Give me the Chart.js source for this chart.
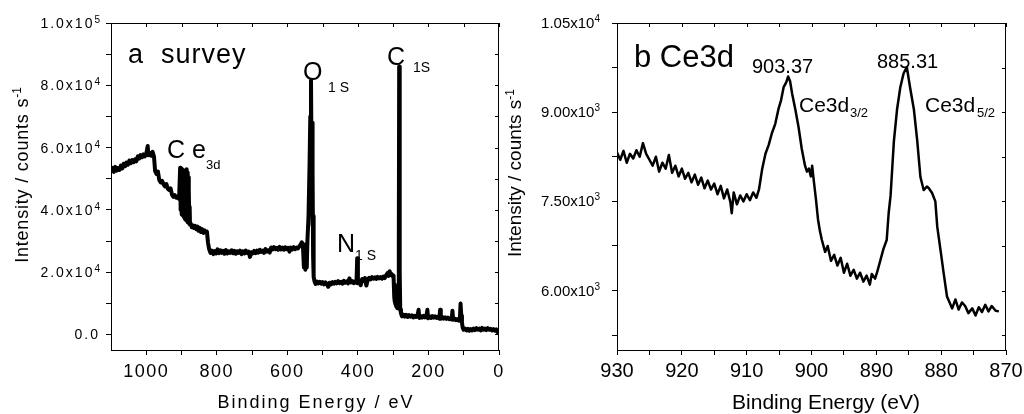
<!DOCTYPE html>
<html>
<head>
<meta charset="utf-8">
<script src="https://cdn.jsdelivr.net/npm/chart.js@4.4.1/dist/chart.umd.min.js"></script>
<style>
  html, body { margin: 0; padding: 0; background: #fff; }
  #wrap { position: relative; width: 1024px; height: 414px; overflow: hidden; }
  canvas { position: absolute; left: 0; top: 0; }
</style>
</head>
<body>
<div id="wrap">
  <canvas id="surveyChart" width="1024" height="414"></canvas>
  <canvas id="ce3dChart" width="1024" height="414"></canvas>
</div>
<script>
// ---- panel a: survey spectrum ----
const surveyEnergy = [
  1100, 1096, 1092, 1088, 1084, 1080, 1076, 1072, 1068, 1064,
  1060, 1056, 1052, 1048, 1044, 1040, 1036, 1032, 1028, 1024,
  1020, 1016, 1012, 1008, 1004, 1000, 996, 994, 990, 986,
  982, 978, 975, 971, 967, 963, 959, 955, 951, 947,
  943, 939, 935, 931, 927, 923, 919, 915, 911, 907,
  904, 903, 902, 901, 900, 899, 898, 897, 896, 895,
  894, 893, 892, 891, 890, 889, 888, 887, 886, 885,
  884, 883, 882, 881, 880, 879, 878, 877, 876, 874,
  871, 868, 865, 862, 858, 855, 852, 848, 845, 842,
  838, 835, 831, 828, 825, 822, 818, 814, 810, 806,
  802, 798, 794, 790, 786, 782, 778, 774, 770, 766,
  762, 758, 754, 750, 746, 742, 738, 734, 730, 726,
  722, 718, 714, 710, 706, 702, 698, 694, 690, 686,
  682, 678, 674, 670, 666, 662, 658, 654, 650, 646,
  642, 638, 634, 630, 626, 622, 618, 614, 610, 606,
  602, 598, 594, 590, 586, 582, 578, 574, 570, 566,
  562, 559, 556, 553, 551, 549, 547, 545, 543, 540,
  537, 535, 533, 532, 531, 530, 529, 528, 527, 526,
  525, 523, 520, 516, 512, 508, 504, 500, 496, 492,
  488, 484, 480, 476, 472, 468, 464, 460, 456, 452,
  448, 444, 440, 436, 432, 428, 424, 420, 416, 412,
  408, 404, 402, 400, 396, 392, 388, 384, 380, 376,
  372, 368, 364, 360, 356, 352, 348, 344, 340, 336,
  332, 328, 324, 320, 316, 313, 310, 307, 304, 301,
  299, 297, 296, 295, 294, 293, 292, 291, 290, 289,
  288, 286, 284, 283, 282, 281, 280, 278, 275, 271,
  267, 263, 259, 255, 251, 247, 243, 239, 235, 231,
  228, 226, 222, 218, 214, 210, 206, 203, 201, 197,
  193, 189, 185, 181, 177, 173, 169, 167, 165, 161,
  157, 153, 149, 145, 141, 137, 134, 132, 130, 126,
  122, 118, 114, 111, 109, 107, 105, 103, 100, 96,
  92, 88, 84, 80, 76, 72, 68, 64, 60, 56,
  52, 48, 44, 40, 36, 32, 28, 24, 20, 16,
  12, 8, 5, 2, 0
];
const surveyCounts = [
  52000, 53500, 52200, 53800, 52600, 53400, 52800, 54200, 53300, 54800,
  54000, 55200, 54500, 55800, 55000, 56000, 55300, 56200, 55600, 57200,
  56500, 57600, 56900, 57800, 57200, 58000, 60500, 57500, 58300, 57400,
  58600, 57000, 52500, 51500, 52300, 49500, 48800, 49300, 48200, 47500,
  48300, 46800, 46400, 46900, 44800, 44200, 44700, 43900, 44300, 43500,
  53500, 52800, 40000, 53200, 38500, 52600, 39200, 52300, 38200, 52700,
  37800, 52100, 37400, 52400, 37000, 51900, 36800, 52200, 36600, 53000,
  36300, 52000, 36000, 50500, 35800, 46500, 35500, 41000, 35200, 35600,
  34400, 35000, 34200, 34900, 33800, 34600, 33300, 34200, 32900, 33800,
  32600, 33400, 32800, 33000, 29500, 27500, 26200, 26900, 25800, 26800,
  26000, 27300, 26100, 27000, 26200, 26800, 25900, 27100, 26000, 26700,
  26200, 27000, 26100, 26800, 25900, 26700, 26200, 26900, 25800, 26700,
  26000, 26900, 26200, 26600, 24900, 26400, 26000, 26800, 26100, 26900,
  26300, 27200, 26500, 26900, 26200, 27400, 26600, 27000, 26300, 27900,
  27300, 28000, 27400, 27800, 27200, 28100, 27300, 27900, 27200, 28000,
  27400, 27800, 26600, 27900, 27300, 28000, 27400, 27900, 27600, 28300,
  28900, 29600, 28700, 21500, 28200, 20800, 29000, 21500, 30500, 38000,
  55000, 70000, 81500, 65000, 45000, 68000, 35000, 52000, 25000, 38000,
  18500, 17000, 16200, 17000, 16400, 16900, 16300, 16800, 16100, 16700,
  16200, 15300, 16600, 16100, 16800, 16300, 16900, 16400, 17100, 16500,
  16900, 16300, 17200, 16600, 17000, 16400, 18000, 16700, 17100, 16500,
  17000, 16600, 24500, 16400, 16900, 15800, 17800, 17200, 18100, 15700,
  17600, 18200, 17700, 18400, 17900, 18300, 17800, 18500, 18000, 18400,
  17900, 18600, 18100, 19000, 19700, 18800, 20300, 19100, 19400, 18600,
  18900, 12000, 10500, 16000, 9800, 14000, 9200, 12500, 8800, 11500,
  8400, 9000, 30000, 86000, 50000, 20000, 8000, 6800, 5800, 6400,
  5700, 6300, 5600, 6200, 5700, 6100, 5500, 6000, 5600, 6100,
  7900, 5300, 5900, 5400, 6000, 5500, 5900, 7900, 5200, 5800,
  5300, 5900, 5400, 5800, 5300, 5700, 5100, 7900, 5000, 5600,
  5100, 5500, 5000, 5400, 4900, 5300, 4800, 7600, 4700, 5100,
  4600, 4900, 4400, 4800, 9900, 6000, 3800, 2200, 1500, 1900,
  1300, 1800, 1200, 1700, 1300, 1900, 1400, 2000, 1500, 1900,
  1300, 2100, 1500, 1900, 1400, 2000, 1500, 1800, 1300, 1700,
  1200, 1600, 1000, 400, 100
];
const surveyXTicks = [1000, 900, 800, 700, 600, 500, 400, 300, 200, 100, 0];
const surveyXMajor = [1000, 800, 600, 400, 200, 0];
const surveyXLabels = ['1000', '800', '600', '400', '200', '0'];
const surveyYTicks = [0, 10000, 20000, 30000, 40000, 50000, 60000, 70000, 80000, 90000, 100000];
const surveyYMajor = [0, 20000, 40000, 60000, 80000, 100000];
const surveyYLabels = ['0.0', '2.0x10^4', '4.0x10^4', '6.0x10^4', '8.0x10^4', '1.0x10^5'];

// ---- panel b: Ce 3d region ----
const ce3dEnergy = [
  930.0, 929.5, 929.0, 928.5, 928.0, 927.5, 927.0, 926.5, 926.0, 925.5,
  925.0, 924.5, 924.0, 923.5, 923.0, 922.5, 922.0, 921.5, 921.0, 920.5,
  920.0, 919.5, 919.0, 918.5, 918.0, 917.5, 917.0, 916.5, 916.0, 915.5,
  915.0, 914.5, 914.0, 913.5, 913.0, 912.5, 912.3, 912.0, 911.5, 911.0,
  910.5, 910.0, 909.5, 909.0, 908.5, 908.1, 907.6, 907.1, 906.6, 906.1,
  905.6, 905.1, 904.7, 904.3, 903.9, 903.6, 903.3, 903.0, 902.5, 902.0,
  901.5, 901.0, 900.7, 900.4, 900.1, 899.9, 899.7, 899.3, 899.0, 898.7,
  898.4, 897.9, 897.5, 897.0, 896.5, 896.0, 895.5, 895.0, 894.5, 894.0,
  893.5, 893.0, 892.5, 892.0, 891.5, 891.0, 890.7, 890.2, 889.9, 889.4,
  888.9, 888.4, 888.1, 887.8, 887.3, 886.8, 886.3, 885.8, 885.3, 884.8,
  884.2, 883.7, 883.2, 882.7, 882.2, 881.9, 881.4, 880.9, 880.6, 880.1,
  879.6, 879.1, 878.7, 878.3, 877.8, 877.3, 876.8, 876.3, 875.8, 875.2,
  874.7, 874.2, 873.7, 873.2, 872.7, 872.2, 871.6, 871.1
];
const ce3dCounts = [
  8320, 8200, 8350, 8150, 8300, 8220, 8360, 8250, 8480, 8300,
  8200, 8100, 8250, 8000, 8150, 8050, 8280, 7980, 8100, 7920,
  8050, 7880, 7980, 7820, 7950, 7780, 7900, 7720, 7850, 7700,
  7800, 7620, 7760, 7550, 7700, 7480, 7300, 7650, 7450, 7600,
  7500, 7620, 7520, 7650, 7560, 7700, 8050, 8300, 8450, 8650,
  8800, 9050, 9200, 9420, 9500, 9600, 9520, 9320, 9050, 8750,
  8380, 8100, 8000, 8050, 7920, 8100, 7900, 7520, 7200, 7000,
  6850, 6650, 6750, 6500, 6600, 6420, 6550, 6300, 6450, 6250,
  6350, 6200, 6300, 6150, 6250, 6100, 6280, 6200, 6300, 6500,
  6700, 6850, 7300, 7600, 8500, 9050, 9420, 9650, 9760, 9420,
  9040, 8530, 7910, 7690, 7750, 7720, 7640, 7500, 7070, 6680,
  6280, 5900, 5800, 5700, 5850, 5680, 5800, 5740, 5620, 5700,
  5580, 5720, 5640, 5760, 5650, 5740, 5660, 5650
];
const ce3dXTicks = [930, 925, 920, 915, 910, 905, 900, 895, 890, 885, 880, 875, 870];
const ce3dXMajor = [930, 920, 910, 900, 890, 880, 870];
const ce3dXLabels = ['930', '920', '910', '900', '890', '880', '870'];
const ce3dYTicks = [5250, 6000, 6750, 7500, 8250, 9000, 9750, 10500];
const ce3dYMajor = [6000, 7500, 9000, 10500];
const ce3dYLabels = ['6.00x10^3', '7.50x10^3', '9.00x10^3', '1.05x10^4'];

const FONT = '"Liberation Sans", Arial, sans-serif';

// draw a run of text pieces (for super/subscripts), each with its own size
function drawRich(ctx, segs, x, y, align) {
  const widths = segs.map(s => {
    ctx.font = s.s + 'px ' + FONT;
    ctx.letterSpacing = (s.ls || 0) + 'px';
    return ctx.measureText(s.t).width;
  });
  const total = widths.reduce((a, b) => a + b, 0);
  let cx = align === 'right' ? x - total : align === 'center' ? x - total / 2 : x;
  segs.forEach((s, i) => {
    ctx.font = s.s + 'px ' + FONT;
    ctx.letterSpacing = (s.ls || 0) + 'px';
    ctx.fillText(s.t, cx, y + (s.dy || 0));
    cx += widths[i];
  });
  ctx.letterSpacing = '0px';
}

function supSegs(label, size, ls, supSize, raise) {
  const [base, sup] = label.split('^');
  const segs = [{ t: base, s: size, ls: ls }];
  if (sup) segs.push({ t: sup, s: supSize, dy: -raise });
  return segs;
}

const panelPlugin = spec => ({
  id: 'panel_' + spec.name,
  afterDraw(chart) {
    const ctx = chart.ctx, a = chart.chartArea;
    const xs = chart.scales.x, ys = chart.scales.y;
    ctx.save();
    // top and right frame with inward mirror ticks
    ctx.strokeStyle = '#000';
    ctx.lineWidth = 1;
    ctx.beginPath();
    ctx.moveTo(a.left, Math.round(a.top) + 0.5);
    ctx.lineTo(a.right, Math.round(a.top) + 0.5);
    ctx.moveTo(Math.round(a.right) - 0.5, a.top);
    ctx.lineTo(Math.round(a.right) - 0.5, a.bottom);
    xs.ticks.forEach(t => {
      const px = Math.round(xs.getPixelForValue(t.value)) + 0.5;
      ctx.moveTo(px, a.top);
      ctx.lineTo(px, a.top + 4);
    });
    ys.ticks.forEach(t => {
      const py = Math.round(ys.getPixelForValue(t.value)) + 0.5;
      ctx.moveTo(a.right, py);
      ctx.lineTo(a.right - 4, py);
    });
    ctx.stroke();

    ctx.fillStyle = '#000';
    ctx.textBaseline = 'alphabetic';
    // tick labels
    spec.xMajor.forEach((v, i) => {
      drawRich(ctx, [{ t: spec.xLabels[i], s: spec.xSize, ls: spec.xLs }],
        xs.getPixelForValue(v), spec.xBase, 'center');
    });
    spec.yMajor.forEach((v, i) => {
      drawRich(ctx, supSegs(spec.yLabels[i], spec.ySize, spec.yLs, spec.ySup, spec.yRaise),
        spec.yRight, ys.getPixelForValue(v) + spec.yDrop, 'right');
    });
    // axis titles
    drawRich(ctx, [{ t: spec.xTitle, s: spec.xTitleSize, ls: spec.xTitleLs }],
      spec.xTitlePos[0], spec.xTitlePos[1], 'center');
    ctx.save();
    ctx.translate(spec.yTitlePos[0], spec.yTitlePos[1]);
    ctx.rotate(-Math.PI / 2);
    drawRich(ctx, [
      { t: 'Intensity / counts s', s: spec.yTitleSize, ls: spec.yTitleLs },
      { t: '-1', s: 12, dy: -7 }
    ], 0, 0, 'center');
    ctx.restore();
    // in-plot labels
    spec.notes.forEach(n => drawRich(ctx, [{ t: n.t, s: n.s, ls: n.ls || 0 }], n.x, n.y, 'left'));
    ctx.restore();
  }
});

function axis(min, max, ticks, reverse, fit) {
  return {
    type: 'linear',
    min: min,
    max: max,
    reverse: reverse,
    afterBuildTicks: s => { s.ticks = ticks.map(v => ({ value: v })); },
    afterFit: fit,
    ticks: { display: false },
    grid: { drawOnChartArea: false, drawTicks: true, tickLength: 5, color: '#000', lineWidth: 1 },
    border: { display: true, color: '#000', width: 1 }
  };
}

const baseOptions = (padding, xScale, yScale) => ({
  responsive: false,
  animation: false,
  events: [],
  layout: { padding: padding },
  plugins: { legend: { display: false }, tooltip: { enabled: false } },
  scales: { x: xScale, y: yScale }
});

new Chart(document.getElementById('surveyChart'), {
  type: 'line',
  data: {
    datasets: [{
      data: surveyEnergy.map((e, i) => ({ x: e, y: surveyCounts[i] })),
      borderColor: '#000',
      borderWidth: 4,
      borderJoinStyle: 'round',
      pointRadius: 0,
      tension: 0,
      fill: false
    }]
  },
  options: baseOptions(
    { left: 0, right: 525, top: 23, bottom: 0 },
    axis(0, 1100, surveyXTicks, true, s => { s.height = 64; }),
    axis(-5000, 100000, surveyYTicks, false, s => { s.width = 111; })
  ),
  plugins: [panelPlugin({
    name: 'a',
    xMajor: surveyXMajor, xLabels: surveyXLabels, xSize: 18, xLs: 1.5, xBase: 377,
    yMajor: surveyYMajor, yLabels: surveyYLabels, ySize: 14, yLs: 2, ySup: 10, yRaise: 5, yDrop: 5, yRight: 100,
    xTitle: 'Binding Energy / eV', xTitleSize: 18, xTitleLs: 2, xTitlePos: [316, 408],
    yTitlePos: [28, 175], yTitleSize: 18, yTitleLs: 0.8,
    notes: [
      { t: 'a  survey', x: 128, y: 63, s: 27, ls: 1 },
      { t: 'O', x: 303, y: 80, s: 25 },
      { t: '1 S', x: 328, y: 92, s: 14 },
      { t: 'C', x: 387, y: 65, s: 25 },
      { t: '1S', x: 413, y: 72, s: 14 },
      { t: 'C e', x: 167, y: 158, s: 25 },
      { t: '3d', x: 206, y: 169, s: 13 },
      { t: 'N', x: 337, y: 252, s: 25 },
      { t: '1 S', x: 355, y: 260, s: 14 }
    ]
  })]
});

new Chart(document.getElementById('ce3dChart'), {
  type: 'line',
  data: {
    datasets: [{
      data: ce3dEnergy.map((e, i) => ({ x: e, y: ce3dCounts[i] })),
      borderColor: '#000',
      borderWidth: 2.5,
      borderJoinStyle: 'round',
      pointRadius: 0,
      tension: 0,
      fill: false
    }]
  },
  options: baseOptions(
    { left: 517, right: 18, top: 23, bottom: 0 },
    axis(870, 930, ce3dXTicks, true, s => { s.height = 64; }),
    axis(5000, 10500, ce3dYTicks, false, s => { s.width = 100; })
  ),
  plugins: [panelPlugin({
    name: 'b',
    xMajor: ce3dXMajor, xLabels: ce3dXLabels, xSize: 20, xLs: 0, xBase: 377,
    yMajor: ce3dYMajor, yLabels: ce3dYLabels, ySize: 15, yLs: 0, ySup: 10, yRaise: 6, yDrop: 5, yRight: 600,
    xTitle: 'Binding Energy (eV)', xTitleSize: 21, xTitleLs: 0, xTitlePos: [826, 409],
    yTitlePos: [521, 173], yTitleSize: 19, yTitleLs: 0,
    notes: [
      { t: 'b Ce3d', x: 634, y: 67, s: 31 },
      { t: '903.37', x: 752, y: 73, s: 20 },
      { t: '885.31', x: 877, y: 68, s: 20 },
      { t: 'Ce3d', x: 799, y: 112, s: 21 },
      { t: '3/2', x: 850, y: 117, s: 13 },
      { t: 'Ce3d', x: 925, y: 112, s: 21 },
      { t: '5/2', x: 977, y: 117, s: 13 }
    ]
  })]
});
</script>
</body>
</html>
